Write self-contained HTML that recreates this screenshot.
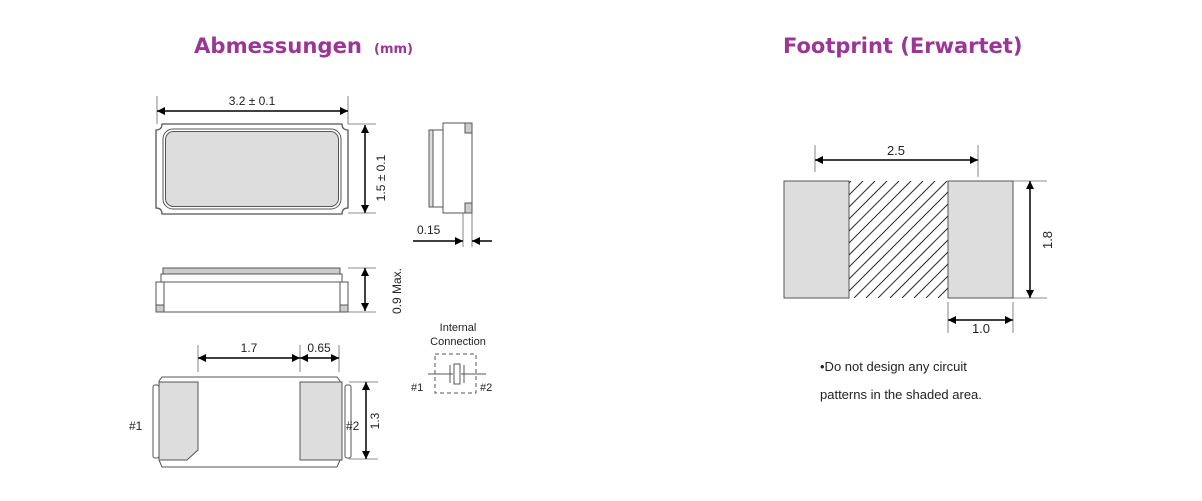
<!DOCTYPE html>
<html><head><meta charset="utf-8"><style>
html,body{margin:0;padding:0;background:#fff;}
svg{display:block}
text{font-family:"Liberation Sans",Arial,sans-serif;fill:#222;}
.t{font-family:"DejaVu Sans","Liberation Sans",sans-serif;font-weight:bold;fill:#9b3596;}
</style></head><body>
<svg width="1202" height="501" viewBox="0 0 1202 501" xmlns="http://www.w3.org/2000/svg">
<defs>
<marker id="a" viewBox="0 0 10 10" refX="10" refY="5" markerWidth="10" markerHeight="8" markerUnits="userSpaceOnUse" orient="auto-start-reverse"><path d="M0,0L10,5L0,10z" fill="#000"/></marker>
<clipPath id="c"><rect x="849" y="181" width="99" height="117"/></clipPath>
</defs>
<text class="t" x="194" y="53" font-size="21.2">Abmessungen</text>
<text class="t" x="374" y="53" font-size="13">(mm)</text>
<text class="t" x="783" y="53" font-size="21">Footprint (Erwartet)</text>

<g stroke="#555" fill="none" stroke-width="1">
<path d="M162,124H342Q342,130 348,130V208Q342,208 342,214H162Q162,208 156,208V130Q162,130 162,124Z" fill="#fff" stroke-width="1.3"/>
<rect x="163" y="129" width="178" height="80" rx="10" fill="#fff"/>
<rect x="165.5" y="131.5" width="173" height="75" rx="8" fill="#ddd"/>
<rect x="429" y="130" width="14" height="77" fill="#ddd"/>
<rect x="433" y="130" width="10" height="77" fill="#fff"/>
<rect x="443" y="123" width="29" height="90" fill="#fff"/>
<rect x="465" y="123" width="7" height="10" fill="#ccc"/>
<rect x="465" y="203" width="7" height="10" fill="#ccc"/>
<rect x="163" y="268" width="177" height="6" fill="#ccc"/>
<rect x="161" y="274" width="181" height="8" fill="#fff"/>
<rect x="156" y="282" width="192" height="30" fill="#fff"/>
<rect x="156" y="305" width="8" height="7" fill="#ccc"/>
<rect x="340" y="305" width="8" height="7" fill="#ccc"/>
<line x1="164" y1="282" x2="164" y2="312"/><line x1="340" y1="282" x2="340" y2="312"/>
<path d="M162,377H337L340,381V460L337,467H162L159,460V381Z" fill="#fff"/>
<rect x="153" y="385" width="6" height="73" rx="2" fill="#fff"/>
<rect x="345" y="385" width="6" height="73" rx="2" fill="#fff"/>
<path d="M159,382H198V450L187,460H159Z" fill="#ddd"/>
<rect x="300" y="382" width="42" height="78" fill="#ddd"/>
<rect x="435" y="354" width="41" height="39" stroke-dasharray="4,3"/>
<line x1="428" y1="374" x2="453" y2="374"/><line x1="461" y1="374" x2="486" y2="374"/>
<line x1="450" y1="365" x2="450" y2="383"/><line x1="464" y1="365" x2="464" y2="383"/>
<rect x="454" y="364" width="6" height="20"/>
<rect x="784" y="181" width="65" height="117" fill="#ddd"/>
<rect x="948" y="181" width="65" height="117" fill="#ddd"/>
</g>
<g stroke="#333" stroke-width="1.1" clip-path="url(#c)">
<line x1="734" y1="298" x2="851" y2="181"/><line x1="746" y1="298" x2="863" y2="181"/>
<line x1="758" y1="298" x2="875" y2="181"/><line x1="770" y1="298" x2="887" y2="181"/>
<line x1="782" y1="298" x2="899" y2="181"/><line x1="794" y1="298" x2="911" y2="181"/>
<line x1="806" y1="298" x2="923" y2="181"/><line x1="818" y1="298" x2="935" y2="181"/>
<line x1="830" y1="298" x2="947" y2="181"/><line x1="842" y1="298" x2="959" y2="181"/>
<line x1="854" y1="298" x2="971" y2="181"/><line x1="866" y1="298" x2="983" y2="181"/>
<line x1="878" y1="298" x2="995" y2="181"/><line x1="890" y1="298" x2="1007" y2="181"/>
<line x1="902" y1="298" x2="1019" y2="181"/><line x1="914" y1="298" x2="1031" y2="181"/>
<line x1="926" y1="298" x2="1043" y2="181"/><line x1="938" y1="298" x2="1055" y2="181"/>
</g>

<g stroke="#666" stroke-width="0.8">
<line x1="157" y1="96" x2="157" y2="124"/><line x1="348" y1="96" x2="348" y2="124"/>
<line x1="348" y1="124" x2="376" y2="124"/><line x1="348" y1="213" x2="376" y2="213"/>
<line x1="463" y1="213" x2="463" y2="247"/><line x1="472" y1="213" x2="472" y2="247"/>
<line x1="348" y1="268" x2="376" y2="268"/><line x1="348" y1="312" x2="376" y2="312"/>
<line x1="198" y1="345" x2="198" y2="372"/><line x1="300" y1="345" x2="300" y2="372"/><line x1="339" y1="345" x2="339" y2="372"/>
<line x1="349" y1="382" x2="378" y2="382"/><line x1="349" y1="459" x2="378" y2="459"/>
<line x1="815" y1="145" x2="815" y2="172"/><line x1="978" y1="145" x2="978" y2="177"/>
<line x1="1013" y1="181" x2="1047" y2="181"/><line x1="1013" y1="298" x2="1047" y2="298"/>
<line x1="948" y1="302" x2="948" y2="333"/><line x1="1013" y1="302" x2="1013" y2="333"/>
</g>

<g stroke="#000" stroke-width="1.5" marker-start="url(#a)" marker-end="url(#a)">
<line x1="157" y1="111" x2="348" y2="111"/>
<line x1="365" y1="125" x2="365" y2="213"/>
<line x1="365" y1="268" x2="365" y2="311"/>
<line x1="198" y1="358" x2="300" y2="358"/>
<line x1="300" y1="358" x2="339" y2="358"/>
<line x1="366" y1="382" x2="366" y2="459"/>
<line x1="815" y1="160" x2="978" y2="160"/>
<line x1="1030" y1="181" x2="1030" y2="298"/>
<line x1="948" y1="320" x2="1013" y2="320"/>
</g>
<g stroke="#000" stroke-width="1.5">
<line x1="413" y1="241" x2="463" y2="241" marker-end="url(#a)"/>
<line x1="492" y1="241" x2="472" y2="241" marker-end="url(#a)"/>
</g>

<g font-size="12">
<text x="252" y="105" text-anchor="middle">3.2 ± 0.1</text>
<text transform="translate(385,178) rotate(-90)" text-anchor="middle">1.5 ± 0.1</text>
<text x="417" y="234">0.15</text>
<text transform="translate(401,291) rotate(-90)" text-anchor="middle">0.9 Max.</text>
<text x="249" y="352" text-anchor="middle">1.7</text>
<text x="319" y="352" text-anchor="middle">0.65</text>
<text x="129" y="430">#1</text>
<text x="346" y="430">#2</text>
<text transform="translate(379,421) rotate(-90)" text-anchor="middle">1.3</text>
<text x="458" y="331" text-anchor="middle" font-size="11">Internal</text>
<text x="458" y="345" text-anchor="middle" font-size="11">Connection</text>
<text x="411" y="391" font-size="11">#1</text>
<text x="480" y="391" font-size="11">#2</text>
<text x="896" y="155" text-anchor="middle" font-size="13">2.5</text>
<text transform="translate(1052,240) rotate(-90)" text-anchor="middle" font-size="13">1.8</text>
<text x="981" y="333" text-anchor="middle" font-size="13">1.0</text>
<text x="820" y="371" font-size="13">•Do not design any circuit</text>
<text x="820" y="399" font-size="13">patterns in the shaded area.</text>
</g>
</svg>
</body></html>
